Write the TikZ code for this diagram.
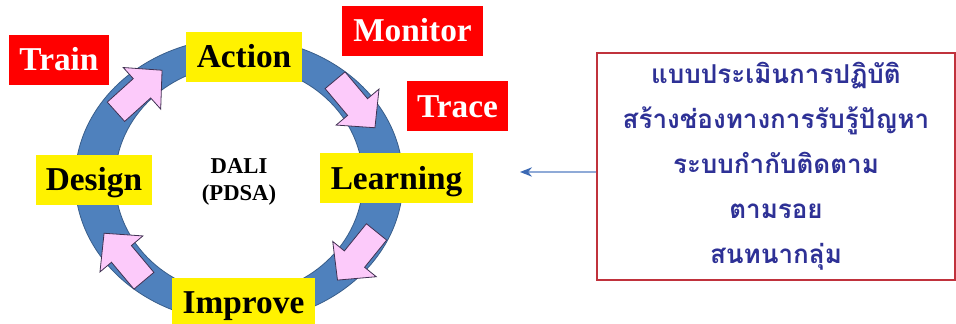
\documentclass[tikz,border=0pt]{standalone}
\usepackage{fontspec}
\setmainfont{Liberation Serif}
\newfontfamily\thaifont[Script=Thai]{Loma}
\usetikzlibrary{arrows.meta,positioning}
\definecolor{ringblue}{RGB}{79,129,189}
\definecolor{ringedge}{RGB}{56,93,138}
\definecolor{arrowpink}{RGB}{252,202,250}
\definecolor{arrowedge}{RGB}{64,49,82}
\definecolor{thaiblue}{RGB}{46,49,150}
\definecolor{notered}{RGB}{192,50,60}
\definecolor{linkblue}{RGB}{143,170,215}
\definecolor{tipblue}{RGB}{60,105,180}

\begin{document}
\begin{tikzpicture}[x=0.75pt,y=0.75pt]
	\tikzset{
		step box/.style={fill=yellow, inner sep=0pt, minimum height=37.5pt,
				text height=16.5pt, text depth=0pt,
				font=\bfseries\fontsize{25}{28}\selectfont},
		task box/.style={step box, fill=red, text=white},
		cycle arrow/.style={fill=arrowpink, draw=arrowedge, line width=0.6pt},
	}
	\useasboundingbox (0,0) rectangle (956,324);
	\fill[white] (0,0) rectangle (956,324);
	%
	\coordinate (c) at (239,144);
	\fill[ringblue, even odd rule] (c) ellipse [x radius=164, y radius=142]
		(c) ellipse [x radius=124, y radius=115];
	\draw[ringedge, line width=0.6pt] (c) ellipse [x radius=164, y radius=142]
		(c) ellipse [x radius=124, y radius=115];
	%
	\foreach \x/\y/\a in {139/233/42, 355/220/-50, 357/68/-129, 124/67/130}
		\draw[cycle arrow, shift={(\x,\y)}, rotate=\a]
			(-31,-13) -- (4,-13) -- (4,-28) -- (31,0) -- (4,28) -- (4,13) -- (-31,13) -- cycle;
	%
	\node[step box, minimum width=87pt] (action) at (244,267) {Action};
	\node[step box, minimum width=87pt] (design) at (94,144) {Design};
	\node[step box, minimum width=114.75pt] (learning) at (396.5,145.5) {Learning};
	\node[step box, minimum width=107.25pt] (improve) at (243.5,21) {Improve};
	\node[font=\bfseries\fontsize{17}{20}\selectfont, align=center] (dali) at (239,142) {DALI\\(PDSA)};
	%
	\node[task box, minimum width=75pt] (train) at (59,264) {Train};
	\node[task box, minimum width=105.75pt] (monitor) at (412.5,293) {Monitor};
	\node[task box, minimum width=75.75pt] (trace) at (457.5,217.5) {Trace};
	%
	\node[draw=notered, line width=0.9pt, minimum width=268.5pt, minimum height=170.25pt,
		text=thaiblue, align=center, font=\thaifont\bfseries\fontsize{19.5}{33.75}\selectfont]
		(notes) at (776,157.5)
		{แบบประเมินการปฏิบัติ\\สร้างช่องทางการรับรู้ปัญหา\\ระบบกำกับติดตาม\\ตามรอย\\สนทนากลุ่ม};
	\coordinate (hint) at (520,152);
	\draw[linkblue, line width=1pt, -{Stealth[length=9pt,width=7pt,color=tipblue]}]
		(notes.west |- hint) -- (hint);
\end{tikzpicture}
\end{document}
